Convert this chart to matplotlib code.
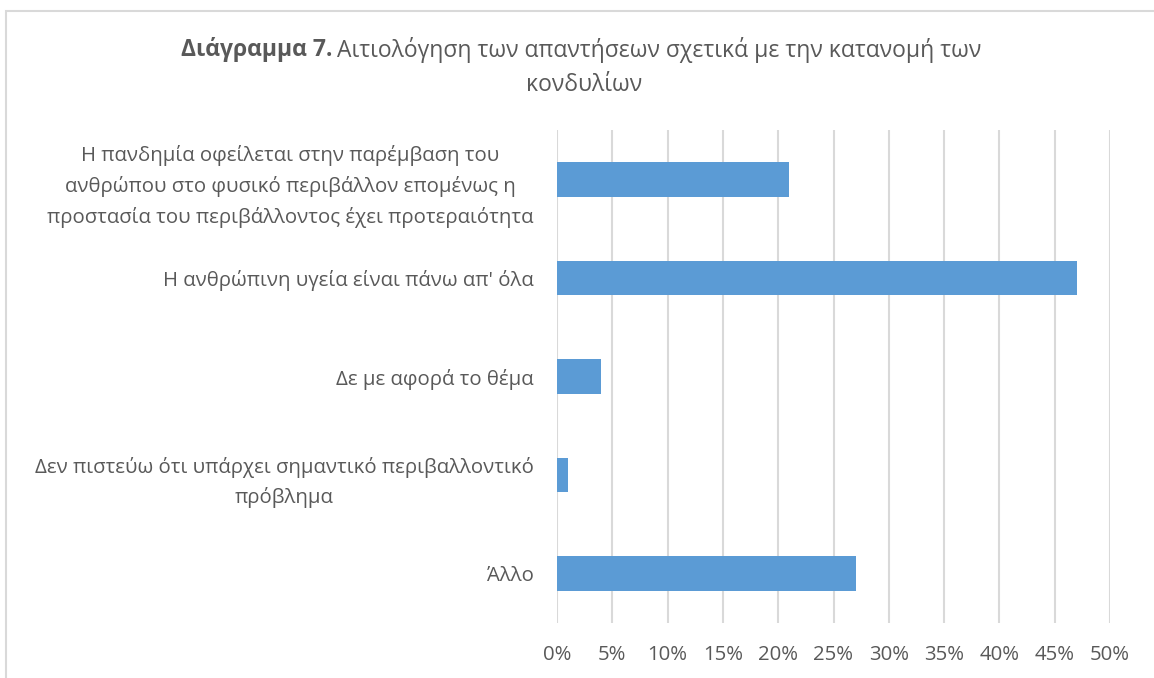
import matplotlib
matplotlib.use("Agg")
import matplotlib.pyplot as plt
from matplotlib.patches import Rectangle
from matplotlib.ticker import FuncFormatter

plt.rcParams['font.family'] = ['Open Sans', 'DejaVu Sans']

# data
categories = [
    "Η πανδημία οφείλεται στην παρέμβαση του\nανθρώπου στο φυσικό περιβάλλον επομένως η\nπροστασία του περιβάλλοντος έχει προτεραιότητα",
    "Η ανθρώπινη υγεία είναι πάνω απ' όλα",
    "Δε με αφορά το θέμα",
    "Δεν πιστεύω ότι υπάρχει σημαντικό περιβαλλοντικό\nπρόβλημα",
    "Άλλο",
]
values = [0.21, 0.47, 0.04, 0.01, 0.27]
xticks = [0, 0.05, 0.10, 0.15, 0.20, 0.25, 0.30, 0.35, 0.40, 0.45, 0.50]

W, H = 1154, 678
fig = plt.figure(figsize=(W / 100, H / 100), dpi=100)
ax = fig.add_axes([557 / W, 1 - 623 / H, (1110 - 557) / W, (623 - 130) / H])

ypos = list(range(len(categories)))
ax.barh(ypos, values, height=0.35, color='#5b9bd5', zorder=3)
ax.set_ylim(len(categories) - 0.5, -0.5)
ax.set_xlim(0, 0.5)
ax.set_xticks(xticks)
ax.xaxis.set_major_formatter(FuncFormatter(lambda v, p: f"{round(v * 100)}%"))
ax.set_yticks(ypos)
ax.set_yticklabels(categories)
for lbl in ax.get_yticklabels():
    lbl.set_multialignment('center')
    lbl.set_linespacing(1.6)

ax.grid(axis='x', color='#d9d9d9', linewidth=1.5, zorder=0)
ax.grid(axis='y', visible=False)
for s in ax.spines.values():
    s.set_visible(False)
ax.tick_params(axis='both', length=0, labelcolor='#595959', labelsize=14.7)
ax.tick_params(axis='y', pad=17)
ax.tick_params(axis='x', pad=16)

# title
fig.text(332 / W, 1 - 50 / H, "Διάγραμμα 7.", ha='right', va='center',
         fontsize=16.5, fontweight='bold', color='#595959')
fig.text(337 / W, 1 - 50 / H, "Αιτιολόγηση των απαντήσεων σχετικά με την κατανομή των",
         ha='left', va='center', fontsize=16.5, color='#595959')
fig.text(584 / W, 1 - 85 / H, "κονδυλίων", ha='center', va='center',
         fontsize=16.5, color='#595959')

# chart border
fig.patches.append(Rectangle((6 / W, -0.2), 1.2, 1.2 - 11 / H, transform=fig.transFigure,
                             fill=False, edgecolor='#d9d9d9', linewidth=1.5))

fig.savefig("out.png", dpi=100)
